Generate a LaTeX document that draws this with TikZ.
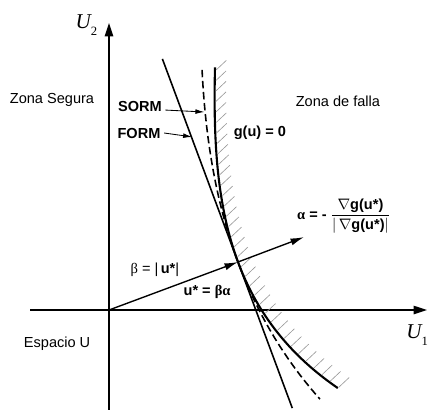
\documentclass[tikz,border=0pt]{standalone}
\usepackage{amsmath}
\usepackage{amssymb}
\usepackage{fontspec}
\setmainfont{Liberation Sans}
\newfontfamily\grkfont{Liberation Serif}
\usetikzlibrary{
    arrows.meta,
    decorations.markings
}

\begin{document}
\begin{tikzpicture}[
    axisline/.style={line width=1.4pt, -{Triangle[length=4.5mm,width=2.8mm]}},
    vecline/.style={line width=1.3pt, -{Latex[length=4.5mm,width=2.4mm]}},
    pointer/.style={line width=0.8pt, -{Latex[length=3mm,width=1.6mm]}},
    limitstate/.style={line width=2pt},
    formline/.style={line width=1.5pt},
    sormline/.style={line width=1.5pt, dash pattern=on 7pt off 3.5pt},
    hatched/.style={postaction={decorate, decoration={markings,
        mark=between positions 0.01 and 1 step 0.35cm with {\pgftransformresetnontranslations
            \draw[gray!80, line width=0.6pt] (0.04,0.03) -- (0.38,0.35);}}}},
    zone/.style={font=\fontsize{13.8}{16}\selectfont},
    tag/.style={font=\fontsize{13.8}{16}\selectfont\bfseries}
]

% Frame
\useasboundingbox (-3.633,-3.367) rectangle (10.633,10.333);

% Axes
\coordinate (O) at (0,0);
\draw[axisline] (0,-3.33) -- (0,9.57);
\draw[axisline] (-2.63,0) -- (10.6,0);
\node[font=\grkfont] (u2) at (-0.75,9.5)
    {{\fontsize{20}{22}\selectfont\itshape U}\raisebox{-6.5pt}{\fontsize{12}{13}\selectfont 2}};
\node[font=\grkfont] (u1) at (10.27,-0.83)
    {{\fontsize{20}{22}\selectfont\itshape U}\raisebox{-6.5pt}{\fontsize{12}{13}\selectfont 1}};

% Limit state g(u) = 0, failure side hatched
\draw[limitstate, hatched] plot[domain=-6.35:5.1, samples=60, variable=\s]
    ({4.3+0.349*(\s)+0.937*(0.0523*(\s)*(\s)+0.00219*(\s)*(\s)*(\s))},
     {1.6-0.937*(\s)+0.349*(0.0523*(\s)*(\s)+0.00219*(\s)*(\s)*(\s))});

% SORM approximation
\draw[sormline] plot[domain=-6.42:5.24, samples=50, variable=\s]
    ({4.3+0.349*(\s)+0.937*(0.0315*(\s)*(\s)+0.0007*(\s)*(\s)*(\s))},
     {1.6-0.937*(\s)+0.349*(0.0315*(\s)*(\s)+0.0007*(\s)*(\s)*(\s))});

% FORM tangent
\coordinate (P) at (4.3,1.6);
\coordinate (formtop) at (1.78,8.37);
\coordinate (formbot) at (6.11,-3.27);
\draw[formline] (formtop) -- (formbot);

% beta and alpha
\coordinate (A) at (6.5,2.43);
\draw[vecline] (O) -- (P);
\draw[vecline] (P) -- (A);

% Zones
\node[zone] (safe) at (-1.9,7.0) {Zona Segura};
\node[zone] (fail) at (7.63,6.97) {Zona de falla};
\node[zone] (space) at (-1.73,-1.13) {Espacio U};

% Labels
\node[tag] (sormlbl) at (1.03,6.77) {SORM};
\node[tag] (formlbl) at (1.0,5.9) {FORM};
\node[tag] (glbl) at (5.03,5.9) {g(u) = 0};
\node[tag, anchor=west] (alphalbl) at (6.15,3.13)
    {{\grkfont α} = - $\dfrac{\nabla\textbf{g(u*)}}{|\,\nabla\textbf{g(u*)}|}$};
\node[zone] (betalbl) at (1.53,1.33) {{\grkfont β} = |\,\textbf{u*}|};
\node[tag] (ustar) at (3.27,0.6) {u* = {\grkfont βα}};

% Pointers
\coordinate (sormhit) at (3.18,6.6);
\coordinate (formhit) at (2.77,5.77);
\draw[pointer] ([yshift=-3pt]sormlbl.east) -- (sormhit);
\draw[pointer] (formlbl.east) -- (formhit);

\end{tikzpicture}
\end{document}
